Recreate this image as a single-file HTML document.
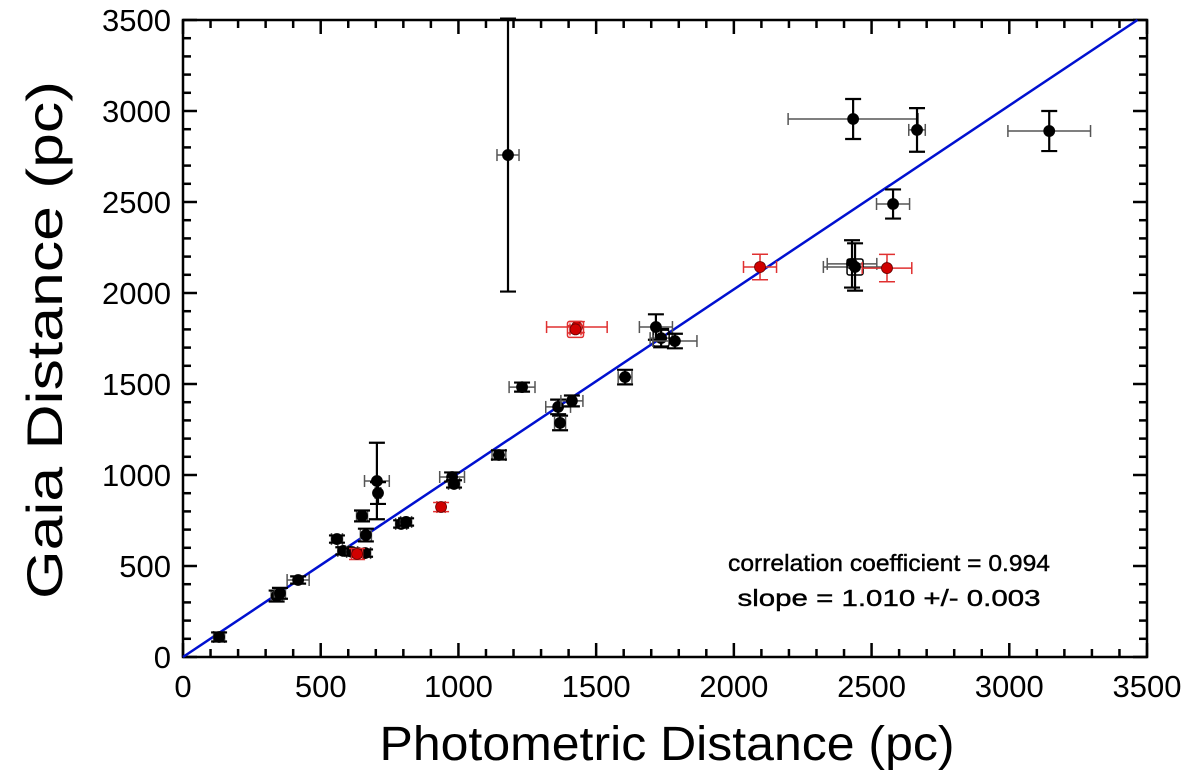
<!DOCTYPE html>
<html><head><meta charset="utf-8"><style>
body{margin:0;background:#fff;}
svg text{font-family:"Liberation Sans","DejaVu Sans",sans-serif;}
</style></head><body>
<svg id="chart" width="1200" height="770" viewBox="0 0 1200 770" xmlns="http://www.w3.org/2000/svg">
<g id="grid"></g><g id="marks"></g>
<text x="667" y="760" font-size="48" text-anchor="middle" textLength="575" lengthAdjust="spacingAndGlyphs">Photometric Distance (pc)</text>
<text transform="translate(62,340) rotate(-90)" font-size="50" text-anchor="middle" textLength="518" lengthAdjust="spacingAndGlyphs">Gaia Distance (pc)</text>
<text x="889" y="571" font-size="23" text-anchor="middle" textLength="322" lengthAdjust="spacingAndGlyphs" stroke="#000" stroke-width="0.4">correlation coefficient = 0.994</text>
<text x="889" y="606" font-size="23" text-anchor="middle" textLength="303" lengthAdjust="spacingAndGlyphs" stroke="#000" stroke-width="0.4">slope = 1.010 +/- 0.003</text>
</svg>
<script>
const xVals=[131,340,352,418,559,582,614,661,664,650,704,708,792,810,977,984,1147,1231,1362,1412,1369,1605,1717,1736,1786,1180,2429,2440,2578,2433,2665,3145,632,937,1430,1425,2095,2556];
const yVals=[110,335,350,423,648,583,577,571,670,775,967,901,731,742,989,951,1110,1483,1374,1407,1286,1538,1813,1752,1736,2758,2160,2143,2489,2956,2896,2890,566,824,1813,1800,2143,2137];
const xErr=[20,20,20,40,20,20,20,20,20,20,45,10,20,20,45,20,25,47,45,40,20,25,60,40,80,40,90,115,60,236,30,150,20,15,110,20,60,90];
const yErr=[25,30,30,20,20,20,20,20,35,30,210,60,20,20,25,20,25,25,40,30,40,40,70,50,40,750,130,130,80,110,120,110,30,25,30,20,70,75];
const isRed=[0,0,0,0,0,0,0,0,0,0,0,0,0,0,0,0,0,0,0,0,0,0,0,0,0,0,0,0,0,0,0,0,1,1,1,1,1,1];
const hasBox=[0,0,0,0,0,0,0,0,0,0,0,0,0,0,0,0,0,0,0,0,0,0,0,1,0,0,0,1,0,0,0,0,0,0,0,1,0,0];
const ticks=[0,500,1000,1500,2000,2500,3000,3500];
const slope=1.010;
const X0=183,X1=1147,Y0=657,Y1=20,MAX=3500;
const sx=v=>X0+(v/MAX)*(X1-X0), sy=v=>Y0-(v/MAX)*(Y0-Y1);
const NS="http://www.w3.org/2000/svg";
const grid=document.getElementById('grid'),marks=document.getElementById('marks');
function mk(tag,at,par){const e=document.createElementNS(NS,tag);for(const k in at)e.setAttribute(k,at[k]);par.appendChild(e);return e;}
const frame=mk('rect',{x:X0,y:Y1,width:X1-X0,height:Y0-Y1,fill:'none',stroke:'#000','stroke-width':2.5},grid);


for(let v=0;v<=MAX;v+=100){const major=v%500===0,L=major?14:8;
 mk('line',{x1:sx(v),x2:sx(v),y1:Y0,y2:Y0-L,stroke:'#000','stroke-width':2.5},grid);
 mk('line',{x1:sx(v),x2:sx(v),y1:Y1,y2:Y1+L,stroke:'#000','stroke-width':2.5},grid);
 mk('line',{y1:sy(v),y2:sy(v),x1:X0,x2:X0+L,stroke:'#000','stroke-width':2.5},grid);
 mk('line',{y1:sy(v),y2:sy(v),x1:X1,x2:X1-L,stroke:'#000','stroke-width':2.5},grid);}
ticks.forEach(t=>{
 const a=mk('text',{x:sx(t),y:Y0+40,'font-size':31,'text-anchor':'middle'},grid);a.textContent=t;
 
 
 const b=mk('text',{x:X0-12,y:sy(t)+11,'font-size':31,'text-anchor':'end'},grid);b.textContent=t;
 
 
});
const xEnd=Math.min(MAX,MAX/slope);
const fit=mk('line',{x1:sx(0),y1:sy(0),x2:sx(xEnd),y2:sy(xEnd*slope),stroke:'#0010d0','stroke-width':2.5},marks);


xVals.forEach((xv,i)=>{
 const g=mk('g',{},marks);
 
 
 const cx=sx(xv),cy=sy(yVals[i]);
 const cx1=sx(xv-xErr[i]),cx2=sx(xv+xErr[i]),cy1=sy(yVals[i]+yErr[i]),cy2=sy(yVals[i]-yErr[i]);
 const xc=isRed[i]?'#e03030':'#555',yc=isRed[i]?'#e03030':'#000';
 mk('line',{x1:cx1,x2:cx2,y1:cy,y2:cy,stroke:xc,'stroke-width':1.5},g);
 mk('line',{x1:cx1,x2:cx1,y1:cy-6,y2:cy+6,stroke:xc,'stroke-width':1.5},g);
 mk('line',{x1:cx2,x2:cx2,y1:cy-6,y2:cy+6,stroke:xc,'stroke-width':1.5},g);
 mk('line',{x1:cx,x2:cx,y1:cy1,y2:cy2,stroke:yc,'stroke-width':isRed[i]?1.5:2.2},g);
 mk('line',{x1:cx-8,x2:cx+8,y1:cy1,y2:cy1,stroke:yc,'stroke-width':isRed[i]?1.5:2.2},g);
 mk('line',{x1:cx-8,x2:cx+8,y1:cy2,y2:cy2,stroke:yc,'stroke-width':isRed[i]?1.5:2.2},g);
 if(hasBox[i])mk('rect',{x:cx-8,y:cy-8,width:16,height:16,rx:2,fill:'none',stroke:isRed[i]?'#e03030':'#000','stroke-width':1.5},g);
 mk('circle',{cx:cx,cy:cy,r:5.5,fill:isRed[i]?'#d00000':'#000',stroke:isRed[i]?'#600':'#000','stroke-width':0.8},g);
});
</script>
</body></html>
